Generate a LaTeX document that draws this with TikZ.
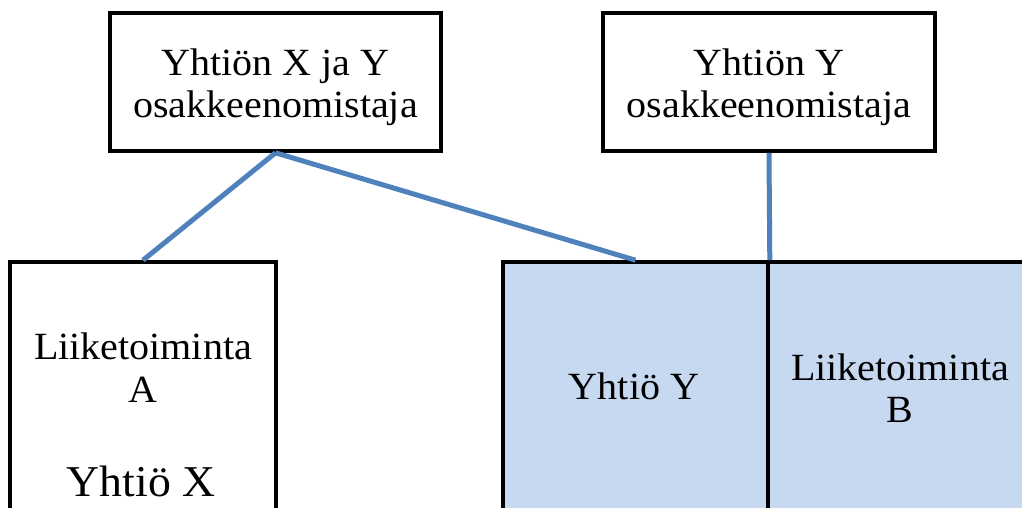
\documentclass[tikz,border=0pt]{standalone}
\usepackage{fontspec}
\setmainfont{Liberation Serif}[FakeStretch=1.04]
\definecolor{linkblue}{RGB}{79,129,189}
\definecolor{unitfill}{RGB}{198,217,241}
\begin{document}
\begin{tikzpicture}[x=1pt,y=-1pt,
  box/.style={draw=black,line width=3.6pt,inner sep=0pt},
  unit/.style={box,fill=unitfill},
  link/.style={draw=linkblue,line width=5pt},
  toptxt/.style={font=\fontsize{38.5}{42}\selectfont,align=center,inner sep=0pt},
  txt/.style={font=\fontsize{38.5}{42}\selectfont,inner sep=0pt,anchor=base},
  bigtxt/.style={font=\fontsize{44}{50}\selectfont,inner sep=0pt,anchor=base}]
\useasboundingbox (0,0) rectangle (1022,508);
\clip (0,0) rectangle (1022,508);
% shareholders
\node[box,minimum width=331pt,minimum height=138pt] (ownXY) at (275.5,82) {};
\node[toptxt] (ownXYtext) at (275.5,87) {Yhtiön X ja Y\\osakkeenomistaja};
\node[box,minimum width=332pt,minimum height=138pt] (ownY) at (769,82) {};
\node[toptxt] (ownYtext) at (769,87) {Yhtiön Y\\osakkeenomistaja};
% companies (running past the lower edge)
\node[box,minimum width=266pt,minimum height=300pt] (bizA) at (143,412) {};
\node[txt] (bizAtext) at (143,359) {Liiketoiminta};
\node[txt] (bizAletter) at (143,402) {A};
\node[bigtxt] (coX) at (141,496) {Yhtiö X};
\node[unit,minimum width=265pt,minimum height=300pt] (coY) at (635.5,412) {};
\node[unit,minimum width=280pt,minimum height=300pt] (bizB) at (908,412) {};
\node[txt] (coYtext) at (634,399) {Yhtiö Y};
\node[txt] (bizBtext) at (900,380) {Liiketoiminta};
\node[txt] (bizBletter) at (900,422) {B};
% ownership links
\draw[link] (ownXY.south) -- (bizA.north);
\draw[link] (ownXY.south) -- (coY.north);
\draw[link] (ownY.south) -- (coY.north east);
\end{tikzpicture}
\end{document}
